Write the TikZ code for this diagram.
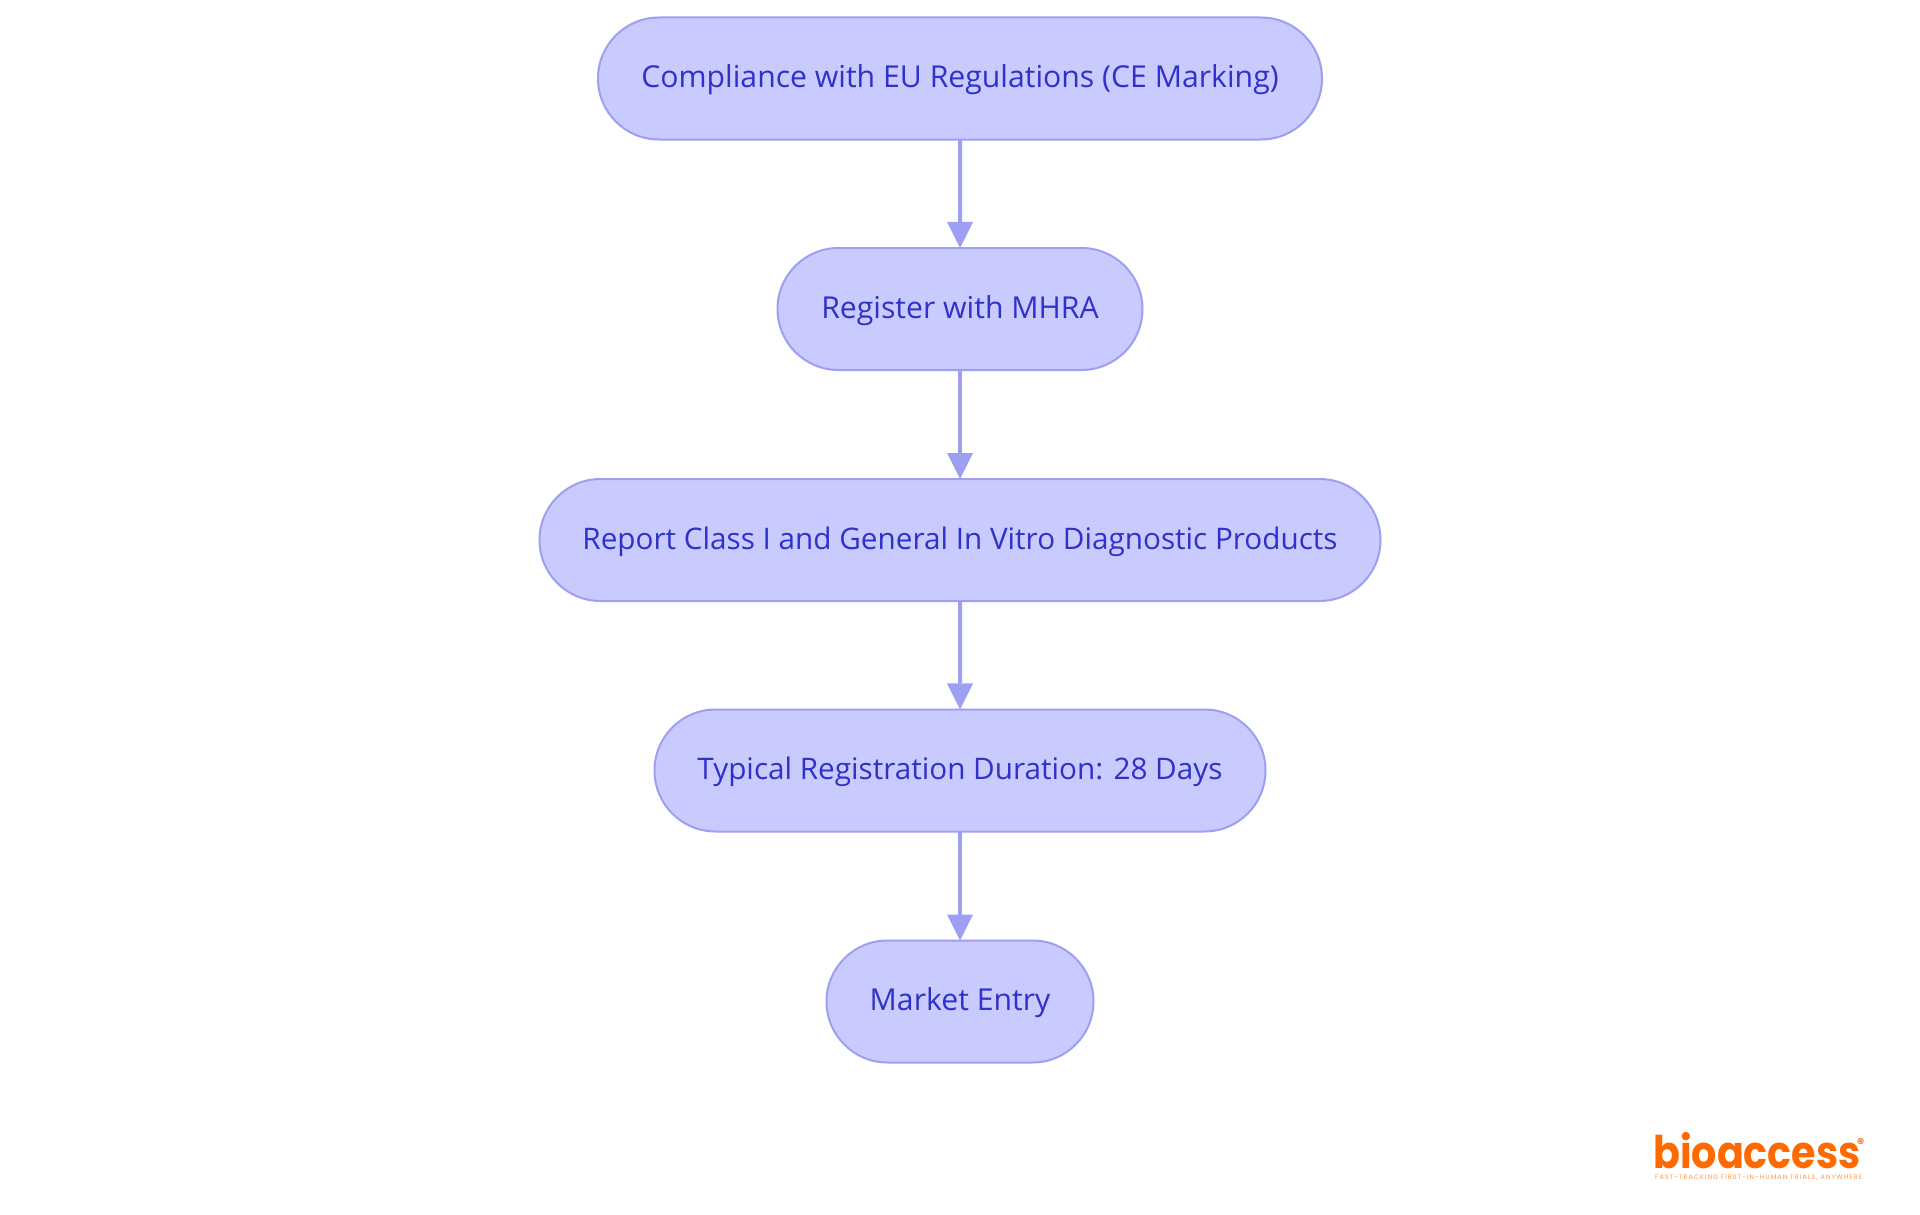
\documentclass[tikz,border=0pt]{standalone}
\usepackage{fontspec}
\setmainfont{Open Sans}
\newfontfamily\logofont{Poppins}
\newfontfamily\tagfont[LetterSpace=16]{Poppins}
\usetikzlibrary{arrows.meta,shapes.misc}
\definecolor{boxfill}{HTML}{C9CBFF}
\definecolor{boxline}{HTML}{9DA0F2}
\definecolor{boxtext}{HTML}{2E32C8}
\definecolor{logoorange}{HTML}{FF6A00}
\tikzset{
  x=1pt,y=-1pt,
  flowbox/.style={draw=boxline,line width=2pt,fill=boxfill,text=boxtext,rounded rectangle,rounded rectangle arc length=180,
    minimum height=122pt,inner xsep=0pt,inner ysep=0pt,outer sep=0pt,text height=24pt,text depth=6pt,font=\fontsize{30.2}{34}\selectfont},
  tightfont/.style={font=\fontsize{29.7}{34}\selectfont},
  flowarrow/.style={draw=boxline,line width=4pt,-{Triangle[length=26pt,width=26pt,line width=0pt,fill=boxline]}},
}
\begin{document}
\begin{tikzpicture}
\useasboundingbox[fill=white] (0,0) rectangle (1920,1215);
\node[flowbox,minimum width=724pt] (a) at (960,78.5) {Compliance with EU Regulations (CE Marking)};
\node[flowbox,minimum width=365pt] (b) at (960,309) {Register with MHRA};
\node[flowbox,tightfont,minimum width=841pt] (c) at (960,540) {Report Class I and General In Vitro Diagnostic Products};
\node[flowbox,tightfont,minimum width=611pt] (d) at (960,770.5) {Typical Registration Duration: 28 Days};
\node[flowbox,minimum width=267pt] (e) at (960,1001.5) {Market Entry};
\draw[flowarrow] (a) -- (b);
\draw[flowarrow] (b) -- (c);
\draw[flowarrow] (c) -- (d);
\draw[flowarrow] (d) -- (e);
\node[anchor=base west,inner sep=0pt,text=logoorange,font=\logofont\bfseries\fontsize{45}{45}\selectfont] (logo) at (1653,1168) {\scalebox{0.88}[1]{bioaccess}};
\node[anchor=base west,inner sep=0pt,text=logoorange,font=\logofont\bfseries\fontsize{14}{14}\selectfont] (reg) at (1857,1148) {®};
\node[anchor=base west,inner sep=0pt,text=logoorange!70,font=\tagfont\fontsize{6.5}{7}\selectfont] (tag) at (1655,1179.5) {FAST-TRACKING FIRST-IN-HUMAN TRIALS, ANYWHERE};
\end{tikzpicture}
\end{document}
